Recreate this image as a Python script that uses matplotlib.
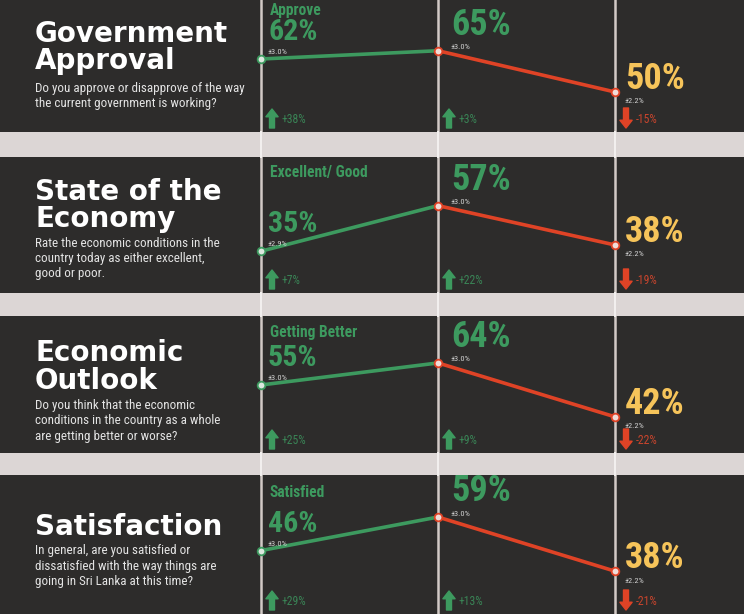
import matplotlib
matplotlib.use("Agg")
import matplotlib.pyplot as plt
import matplotlib.transforms as mtransforms
from matplotlib import font_manager

# ---- data ----
titles = [["Government", "Approval"], ["State of the", "Economy"],
          ["Economic", "Outlook"], ["Satisfaction"]]
questions = [
    ["Do you approve or disapprove of the way", "the current government is working?"],
    ["Rate the economic conditions in the", "country today as either excellent,", "good or poor."],
    ["Do you think that the economic", "conditions in the country as a whole", "are getting better or worse?"],
    ["In general, are you satisfied or", "dissatisfied with the way things are", "going in Sri Lanka at this time?"],
]
answers = ["Approve", "Excellent/ Good", "Getting Better", "Satisfied"]
values = [[62, 65, 50], [35, 57, 38], [55, 64, 42], [46, 59, 38]]
margins = [["±3.0%", "±3.0%", "±2.2%"], ["±2.9%", "±3.0%", "±2.2%"],
           ["±3.0%", "±3.0%", "±2.2%"], ["±3.0%", "±3.0%", "±2.2%"]]
changes = [["+38%", "+3%", "-15%"], ["+7%", "+22%", "-19%"],
           ["+25%", "+9%", "-22%"], ["+29%", "+13%", "-21%"]]
cols = [0, 1, 2]

# ---- colours ----
BG = '#2d2c2b'
BAND = '#dcd6d5'
GREEN = '#3d9a5f'
RED = '#df4326'
YELLOW = '#f6c45a'
RULE = '#d2cac6'

# ---- layout (pixels) ----
W, H = 744, 614
panel_px = [(0, 132), (157, 293), (316, 453), (475, 614)]
ylims = [(35.45, 83.45), (14.8, 80.5), (27.24, 83.16), (21.4, 75.3)]
title_base = [[42, 69], [200, 227], [361, 389], [535]]
question_base = [[92, 107], [247, 262, 277], [409, 424, 440], [554, 570, 585]]
answer_base = [15, 177, 337, 497]
num_off = [(7, 19), (13, 16), (10, 3)]
moe_off = [(7, 5), (13, 1.5), (10, -11.5)]
num_size = [21.5, 26, 26]
num_colors = [GREEN, GREEN, YELLOW]

# condensed face if one is installed, else Roboto a little smaller
entries = font_manager.fontManager.ttflist
NARROW, STRETCH, SCALE = 'Roboto', 'normal', 0.84
for want in ['Liberation Sans Narrow', 'Roboto Condensed', 'Noto Sans Condensed',
             'Open Sans Condensed', 'DejaVu Sans Condensed']:
    if any(f.name == want for f in entries):
        NARROW, STRETCH, SCALE = want, 'normal', 1.0
        break
else:
    for f in entries:
        if f.name in ('Noto Sans', 'Open Sans', 'DejaVu Sans', 'Roboto') and 'condensed' in str(f.stretch):
            NARROW, STRETCH, SCALE = f.name, f.stretch, 1.0
            break

fig = plt.figure(figsize=(W / 100, H / 100), dpi=100, facecolor=BAND)


def fx(px):
    return px / W


def fy(px):
    return 1 - px / H


def pt(px):
    return px * 0.72


for i in range(4):
    top, bot = panel_px[i]
    ax = fig.add_axes([0, fy(bot), 1, (bot - top) / H])
    ax.set_facecolor(BG)
    ax.set_xlim(-1.4746, 2.7288)
    ax.set_ylim(ylims[i])
    ax.set_xticks([])
    ax.set_yticks([])
    for s in ax.spines.values():
        s.set_visible(False)

    for c in cols:
        ax.axvline(c, color=RULE, lw=1.8, zorder=1)
        if i > 0:
            # the rules show faintly through the light band above
            gap = top - panel_px[i - 1][1]
            ax.axvline(c, ymin=1, ymax=1 + gap / (bot - top), color='#f3f0ef', lw=1.4,
                       clip_on=False, zorder=1)

    v = values[i]
    ax.plot(cols[:2], v[:2], color=GREEN, lw=2.6, zorder=3)
    ax.plot(cols[1:], v[1:], color=RED, lw=2.6, zorder=3)
    ax.plot(cols[0], v[0], 'o', ms=5.5, mfc='#dce8df', mec=GREEN, mew=1.3, zorder=4)
    ax.plot(cols[1:], v[1:], 'o', ls='none', ms=5.5, mfc='#f1dcd8', mec=RED, mew=1.3, zorder=4)

    for j, c in enumerate(cols):
        ax.annotate(f"{v[j]}%", xy=(c, v[j]), xytext=(pt(num_off[j][0]), pt(num_off[j][1])),
                    textcoords='offset points', va='baseline', ha='left',
                    color=num_colors[j], fontsize=num_size[j] * (0.88 if SCALE < 1 else 1),
                    fontweight='heavy', family=NARROW, fontstretch=STRETCH, zorder=5)
        ax.annotate(margins[i][j], xy=(c, v[j]), xytext=(pt(moe_off[j][0]), pt(moe_off[j][1])),
                    textcoords='offset points', va='baseline', ha='left',
                    color='#d0d0d0', fontsize=6, family=NARROW, fontstretch=STRETCH, zorder=5)

        up = changes[i][j].startswith('+')
        col = GREEN if up else RED
        base = mtransforms.blended_transform_factory(ax.transData, ax.transAxes)
        tip_dy, tail_dy = (23, 4) if up else (4, 24)
        tip = base + mtransforms.ScaledTranslation(11 / 100, tip_dy / 100, fig.dpi_scale_trans)
        tail = base + mtransforms.ScaledTranslation(11 / 100, tail_dy / 100, fig.dpi_scale_trans)
        ax.annotate('', xy=(c, 0), xycoords=tip, xytext=(c, 0), textcoords=tail,
                    arrowprops=dict(arrowstyle='simple,head_length=0.7,head_width=1.1,tail_width=0.45',
                                    color=col, shrinkA=0, shrinkB=0, mutation_scale=8))
        txt = base + mtransforms.ScaledTranslation(21 / 100, 9 / 100, fig.dpi_scale_trans)
        ax.text(c, 0, changes[i][j], transform=txt, va='baseline', ha='left',
                color='#3a8456' if up else '#c9452d', fontsize=8 * SCALE + 0.5,
                family=NARROW, fontstretch=STRETCH)

    # left side text
    for k, line in enumerate(titles[i]):
        fig.text(fx(35), fy(title_base[i][k]), line, color='white', fontsize=20,
                 fontweight='bold', family='DejaVu Sans', va='baseline')
    for k, line in enumerate(questions[i]):
        fig.text(fx(35), fy(question_base[i][k]), line, color='#e4e4e4', fontsize=9.4 * SCALE,
                 family=NARROW, fontstretch=STRETCH, va='baseline')
    fig.text(fx(270), fy(answer_base[i]), answers[i], color=GREEN, fontsize=11.2 * SCALE,
             fontweight='bold', family=NARROW, fontstretch=STRETCH, va='baseline')

fig.savefig('out.png', dpi=100, facecolor=BAND)
